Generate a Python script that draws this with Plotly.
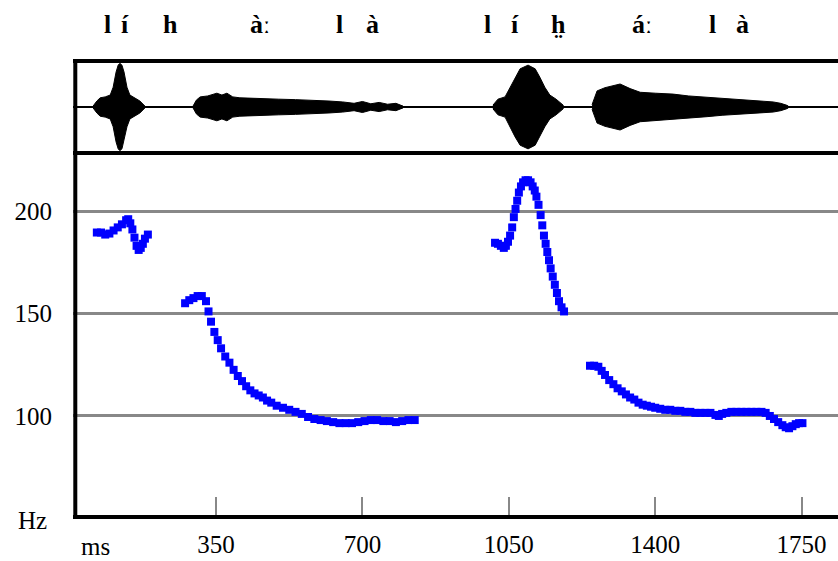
import plotly.graph_objects as go

# ---------------- data ----------------
# pitch tracks (time in ms, F0 in Hz)
t1 = [65, 75, 85, 95, 105, 115, 125, 135, 140, 145, 150, 155, 160, 165, 170, 175, 180, 187]
f1 = [189.5, 189.5, 188.5, 189, 190.5, 192, 193.5, 195.5, 196, 194, 191, 187, 183, 181, 182, 184, 186.5, 188.5]

t2 = [276, 286, 296, 306, 316, 326, 332, 338, 346, 354, 362, 372, 382, 392, 402, 412, 422, 432,
      442, 452, 462, 472, 482, 495, 510, 525, 540, 555, 570, 585, 600, 615, 630, 645, 660, 675,
      690, 705, 720, 735, 750, 765, 780, 795, 810, 825]
f2 = [155, 156.5, 157.5, 158.5, 158.5, 156, 151, 146, 141, 137, 133, 129, 126, 122.5, 119.5, 117,
      114.5, 112.5, 111, 110, 109, 107.5, 106.5, 105, 104, 103, 102, 101, 99.5, 98.5, 98, 97.5, 97,
      96.5, 96.5, 96.5, 97, 97.5, 98, 98, 97.5, 97.5, 97, 97.5, 98, 98]

t3 = [1017, 1024, 1031, 1038, 1043, 1048, 1053, 1058, 1062, 1066, 1070, 1074, 1079, 1084, 1090,
      1096, 1102, 1107, 1112, 1116, 1121, 1126, 1130, 1134, 1138, 1142, 1146, 1150, 1155, 1160,
      1165, 1170, 1176, 1182]
f3 = [184.5, 184, 183, 182, 183, 185, 188, 192, 197, 201, 205, 209, 212, 214, 215, 215, 214, 212,
      210, 207, 203, 198, 193, 188, 184, 180, 176, 172, 168, 164, 160, 156, 153, 151]

t4 = [1244, 1254, 1264, 1272, 1280, 1290, 1300, 1310, 1320, 1330, 1340, 1350, 1360, 1370, 1380,
      1390, 1400, 1412, 1424, 1436, 1448, 1460, 1472, 1484, 1496, 1508, 1520, 1532, 1544, 1552,
      1560, 1570, 1582, 1594, 1606, 1618, 1630, 1642, 1654, 1664, 1674, 1684, 1694, 1704, 1712,
      1720, 1728, 1736, 1744, 1752]
f4 = [124.5, 124.5, 124, 122, 120, 117.5, 115.5, 113.5, 112, 110.5, 109, 108, 106.5, 105.5, 105,
      104.5, 104, 103.5, 103, 103, 102.5, 102.5, 102, 102, 101.5, 101.5, 101.5, 101.5, 100.5, 100,
      101, 101.5, 102, 102, 102, 102, 102, 102, 102, 101.5, 100, 98.5, 97, 95.5, 94.5, 94, 95, 96,
      96.5, 96.5]

# waveform envelopes (time in ms, relative amplitude)
w1_t = [56, 65, 73, 85, 97, 104, 111, 116, 120, 125, 130, 137, 144, 154, 168, 180]
w1_a = [0.02, 0.13, 0.2, 0.22, 0.26, 0.43, 0.76, 0.91, 0.95, 0.91, 0.76, 0.43, 0.26, 0.2, 0.13, 0.02]

w2_t = [295, 303, 312, 330, 352, 364, 376, 390, 407, 450, 500, 540, 582, 620, 653, 680, 700,
        720, 740, 760, 780, 797]
w2_a = [0.02, 0.15, 0.22, 0.24, 0.3, 0.26, 0.3, 0.22, 0.2, 0.18, 0.17, 0.16, 0.15, 0.13, 0.11,
        0.08, 0.12, 0.07, 0.1, 0.06, 0.08, 0.02]

w3_t = [1012, 1024, 1041, 1053, 1065, 1077, 1096, 1113, 1124, 1136, 1148, 1163, 1180]
w3_a = [0.04, 0.17, 0.22, 0.43, 0.65, 0.83, 0.91, 0.83, 0.65, 0.43, 0.26, 0.17, 0.04]

w4_t = [1249, 1261, 1280, 1316, 1340, 1364, 1400, 1443, 1480, 1524, 1560, 1603, 1640, 1682, 1700, 1717]
w4_a = [0.05, 0.35, 0.42, 0.5, 0.4, 0.32, 0.3, 0.28, 0.24, 0.21, 0.18, 0.15, 0.13, 0.11, 0.08, 0.03]

x_ticks = [350, 700, 1050, 1400, 1750]
y_ticks = [100, 150, 200]

# segment labels: (time in ms, text)
labels = [(90, "l"), (133, "í"), (240, "h"), (455, "àː"), (646, "l"), (723, "à"),
          (998, "l"), (1065, "í"), (1168, "h̤"), (1368, "áː"), (1536, "l"), (1608, "à")]

# ---------------- figure ----------------
fig = go.Figure()

blue = "#0000FF"
for tt, ff in [(t1, f1), (t2, f2), (t3, f3), (t4, f4)]:
    fig.add_trace(go.Scatter(x=tt, y=ff, mode="markers",
                             marker=dict(symbol="square", size=8, color=blue, line=dict(width=0)),
                             xaxis="x", yaxis="y", showlegend=False, hoverinfo="skip"))

for wt, wa in [(w1_t, w1_a), (w2_t, w2_a), (w3_t, w3_a), (w4_t, w4_a)]:
    xs = list(wt) + list(wt[::-1])
    ys = list(wa) + [-a for a in wa[::-1]]
    fig.add_trace(go.Scatter(x=xs, y=ys, mode="lines", fill="toself", fillcolor="black",
                             line=dict(color="black", width=1), xaxis="x", yaxis="y2",
                             showlegend=False, hoverinfo="skip"))

serif = "Liberation Serif, Times New Roman, serif"
split = (517 - 153) / 456.0

fig.update_layout(
    width=838, height=561,
    margin=dict(l=73, r=0, t=61, b=44),
    paper_bgcolor="white", plot_bgcolor="white",
    xaxis=dict(range=[8, 1837], tickvals=x_ticks, ticktext=[str(v) for v in x_ticks],
               ticks="inside", ticklen=20, tickwidth=2, tickcolor="#888888",
               showgrid=False, zeroline=False, showline=False,
               tickfont=dict(family=serif, size=25, color="black"), ticklabelstandoff=10),
    yaxis=dict(domain=[0, split], range=[50.7, 228.3], tickvals=y_ticks,
               showgrid=True, gridcolor="#888888", gridwidth=2.5, zeroline=False,
               showline=False, ticks="", ticklabelstandoff=20,
               tickfont=dict(family=serif, size=25, color="black")),
    yaxis2=dict(domain=[split, 1], range=[-1, 1], showticklabels=False, showgrid=False,
                zeroline=True, zerolinecolor="black", zerolinewidth=2, showline=False),
)

shapes = [
    dict(type="line", xref="paper", yref="paper", x0=0.003, x1=0.003, y0=0, y1=1,
         line=dict(color="black", width=4)),
    dict(type="line", xref="paper", yref="paper", x0=0, x1=1, y0=0, y1=0,
         line=dict(color="black", width=4)),
    dict(type="line", xref="paper", yref="paper", x0=0, x1=1, y0=1, y1=1,
         line=dict(color="black", width=4)),
    dict(type="line", xref="paper", yref="paper", x0=0, x1=1, y0=split, y1=split,
         line=dict(color="black", width=4)),
]
fig.update_layout(shapes=shapes)

ann = []
for t, txt in labels:
    ann.append(dict(x=t, xref="x", y=(517 - 25) / 456.0, yref="paper", text="<b>%s</b>" % txt,
                    showarrow=False, font=dict(family=serif, size=26, color="black"),
                    xanchor="center", yanchor="middle"))
ann.append(dict(x=(32 - 73) / 765.0, xref="paper", y=(517 - 520) / 456.0, yref="paper", text="Hz",
                showarrow=False, font=dict(family=serif, size=25, color="black"),
                xanchor="center", yanchor="middle"))
ann.append(dict(x=(95 - 73) / 765.0, xref="paper", y=(517 - 546) / 456.0, yref="paper", text="ms",
                showarrow=False, font=dict(family=serif, size=25, color="black"),
                xanchor="center", yanchor="middle"))
fig.update_layout(annotations=ann)

fig.write_html("out.html", config={"displayModeBar": False},
               post_script="document.body.style.margin='0';document.body.style.overflow='hidden';")
